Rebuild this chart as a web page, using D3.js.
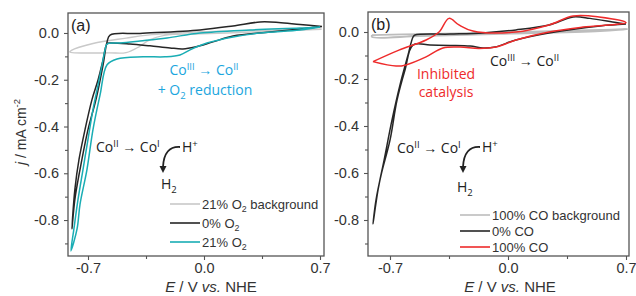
<!DOCTYPE html>
<html><head><meta charset="utf-8">
<script src="https://cdn.jsdelivr.net/npm/d3@7"></script>
<style>body{margin:0;background:#fff}svg{display:block}</style>
</head><body><svg id="c" width="636" height="296"></svg>
<script>
// ---------- data ----------
const xTicksMajor = [-0.7, 0.0, 0.7];
const xTicksMinor = [-0.35, 0.35];
const yTicksMajor = [-0.8, -0.6, -0.4, -0.2, 0.0];
const yTicksMinor = [-0.9, -0.7, -0.5, -0.3, -0.1];

// Panel (a): [E (V vs NHE), j (mA cm^-2)]
const bgO2 = [[0.71,0.016],[0.52,0.010],[0.28,0.004],[-0.02,-0.004],[-0.24,-0.010],[-0.33,-0.030],[-0.39,-0.058],[-0.47,-0.084],[-0.57,-0.085],[-0.81,-0.081],
  [-0.80,-0.074],[-0.67,-0.045],[-0.47,-0.022],[-0.34,-0.009],[-0.02,0.005],[0.28,0.011],[0.52,0.014],[0.71,0.016]];
const noO2 = [[0.712,0.028],[0.579,0.017],[0.398,0.004],[0.175,-0.013],[0.054,-0.038],[-0.054,-0.060],[-0.127,-0.068],[-0.205,-0.064],[-0.326,-0.055],[-0.447,-0.047],[-0.567,-0.043],[-0.585,-0.046],
  [-0.609,-0.115],[-0.639,-0.200],[-0.676,-0.285],[-0.718,-0.413],[-0.754,-0.540],[-0.779,-0.668],[-0.797,-0.838],
  [-0.779,-0.711],[-0.748,-0.583],[-0.700,-0.413],[-0.652,-0.285],[-0.609,-0.136],[-0.585,-0.038],[-0.567,-0.009],
  [-0.386,-0.002],[-0.024,0.013],[0.175,0.030],[0.338,0.047],[0.45,0.045],[0.58,0.036],[0.712,0.028]];
const withO2 = [[0.700,0.026],[0.579,0.013],[0.338,0.000],[0.175,-0.017],[0.018,-0.043],[-0.084,-0.072],[-0.145,-0.094],[-0.235,-0.102],[-0.368,-0.102],[-0.525,-0.111],[-0.585,-0.136],
  [-0.627,-0.264],[-0.670,-0.413],[-0.706,-0.583],[-0.748,-0.732],[-0.766,-0.838],[-0.803,-0.932],
  [-0.785,-0.838],[-0.760,-0.711],[-0.730,-0.583],[-0.700,-0.455],[-0.670,-0.328],[-0.639,-0.221],[-0.615,-0.136],[-0.597,-0.072],[-0.585,-0.047],
  [-0.507,-0.043],[-0.386,-0.034],[-0.223,-0.021],[-0.024,0.000],[0.278,0.013],[0.579,0.021],[0.700,0.026]];

// Panel (b)
const bgCO = [[-0.807,-0.013],[-0.522,-0.009],[-0.047,-0.002],[0.546,0.009],[0.712,0.013],[0.546,0.004],[-0.047,-0.008],[-0.522,-0.017],[-0.807,-0.021],[-0.807,-0.013]];
const noCO = [[0.700,0.034],[0.546,0.026],[0.243,-0.004],[0.047,-0.034],[-0.077,-0.064],[-0.148,-0.068],[-0.225,-0.060],[-0.344,-0.057],[-0.463,-0.055],[-0.563,-0.055],
  [-0.611,-0.162],[-0.658,-0.289],[-0.700,-0.460],[-0.753,-0.609],[-0.783,-0.715],[-0.801,-0.817],
  [-0.771,-0.672],[-0.735,-0.545],[-0.688,-0.374],[-0.641,-0.226],[-0.593,-0.098],[-0.563,-0.021],[-0.552,-0.013],
  [-0.344,-0.009],[-0.148,-0.004],[0.047,0.009],[0.243,0.030],[0.386,0.064],[0.486,0.058],[0.641,0.040],[0.700,0.034]];
const withCO = [[-0.801,-0.126],[-0.647,-0.077],[-0.486,-0.034],[-0.409,0.000],[-0.350,0.058],[-0.291,0.030],[-0.208,0.004],[0.047,0.000],[0.243,0.030],[0.386,0.068],[0.540,0.064],[0.700,0.040],
  [0.445,0.021],[0.243,0.000],[0.047,-0.034],[-0.071,-0.064],[-0.172,-0.070],[-0.285,-0.064],[-0.386,-0.068],[-0.486,-0.106],[-0.605,-0.140],[-0.664,-0.145],[-0.801,-0.126]];

const legendA = ["21% O|2| background", "0% O|2|", "21% O|2|"];
const legendB = ["100% CO background", "0% CO", "100% CO"];

// ---------- drawing ----------
const svg = d3.select("#c");
const FONT = "'Liberation Sans', Arial, sans-serif";
const AFONT = "'Open Sans', 'Noto Sans', sans-serif";
const cGray = "#c9c9c9", cBlack = "#262626", cCyan = "#19adb4", cRed = "#ee2b2b", cText = "#1ba6de";

function richText(g, x, y, parts, opts) {
  // parts: array of [text, mode] mode: 0 normal, 1 sup, -1 sub
  const t = g.append("text").attr("x", x).attr("y", y)
    .attr("font-family", opts.font).attr("font-size", opts.size)
    .attr("fill", opts.fill).attr("text-anchor", opts.anchor || "start");
  let cur = 0;
  parts.forEach(([s, m]) => {
    const target = m === 1 ? -opts.size * 0.38 : (m === -1 ? opts.size * 0.28 : 0);
    const ts = t.append("tspan").text(s).attr("dy", target - cur);
    if (m !== 0) ts.attr("font-size", opts.size * 0.68);
    cur = target;
  });
  return t;
}
function parseSub(str) {
  return str.split("|").map((s, i) => [s, i % 2 === 1 ? -1 : 0]).filter(p => p[0].length);
}

function panel(cfg) {
  const g = svg.append("g");
  const x = d3.scaleLinear().domain(cfg.xd).range([cfg.L, cfg.R]);
  const y = d3.scaleLinear().domain(cfg.yd).range([cfg.B, cfg.T]);
  const fmt = d => d.toFixed(1);

  const ax = g.append("g").attr("transform", `translate(0,${cfg.B})`)
    .call(d3.axisBottom(x).tickValues(xTicksMajor).tickFormat(fmt).tickSize(4).tickPadding(3));
  g.append("g").attr("transform", `translate(0,${cfg.B})`)
    .call(d3.axisBottom(x).tickValues(xTicksMinor).tickFormat("").tickSize(3));
  g.append("g").attr("transform", `translate(${cfg.L},0)`)
    .call(d3.axisLeft(y).tickValues(yTicksMajor).tickFormat(fmt).tickSize(4).tickPadding(5));
  g.append("g").attr("transform", `translate(${cfg.L},0)`)
    .call(d3.axisLeft(y).tickValues(yTicksMinor).tickFormat("").tickSize(3));
  g.selectAll(".domain").remove();
  g.selectAll(".tick line").attr("stroke", "#555").attr("stroke-width", 1.1);
  g.selectAll(".tick text").attr("font-family", FONT).attr("font-size", 14.5).attr("fill", "#333");

  g.append("rect").attr("x", cfg.L).attr("y", cfg.T).attr("width", cfg.R - cfg.L).attr("height", cfg.B - cfg.T)
    .attr("fill", "none").attr("stroke", "#555").attr("stroke-width", 1.3);

  const line = d3.line().x(d => x(d[0])).y(d => y(d[1])).curve(d3.curveCatmullRom.alpha(0.5));
  cfg.series.forEach(s => {
    g.append("path").datum(s.data).attr("d", line).attr("fill", "none")
      .attr("stroke", s.color).attr("stroke-width", s.w || 1.5).attr("stroke-linejoin", "round");
  });

  // legend
  cfg.legend.forEach((lab, i) => {
    const yy = cfg.legY[i];
    g.append("line").attr("x1", cfg.legX).attr("x2", cfg.legX + 30).attr("y1", yy).attr("y2", yy)
      .attr("stroke", cfg.series[i].color).attr("stroke-width", 1.6);
    richText(g, cfg.legX + 32, yy + 4.5, parseSub(lab), {font: FONT, size: 13, fill: "#333"});
  });

  // x label
  richText(g, cfg.xlabX, 292, [["E", 0], [" / V ", 0], ["vs.", 0], [" NHE", 0]], {font: FONT, size: 15, fill: "#333", anchor: "middle"})
    .selectAll("tspan").each(function(d, i) { if (i === 0 || i === 2) d3.select(this).attr("font-style", "italic"); });

  // panel letter
  g.append("text").attr("x", cfg.L + 3).attr("y", cfg.T + 18).text(cfg.letter)
    .attr("font-family", FONT).attr("font-size", 16).attr("fill", "#222");

  return {g, x, y};
}

const A = panel({
  L: 68, R: 324, T: 13, B: 256,
  xd: [-0.7 - 20 / 165.7, 0.7 + 4 / 165.7], yd: [-0.8 - 36 / 234, 20 / 234],
  series: [{data: bgO2, color: cGray, w: 1.4}, {data: noO2, color: cBlack}, {data: withO2, color: cCyan}],
  legend: legendA, legX: 170, legY: [204, 223, 242], xlabX: 211, letter: "(a)"
});
const Bp = panel({
  L: 368, R: 629, T: 12, B: 256,
  xd: [-0.7 - 22 / 168.6, 0.7 + 3 / 168.6], yd: [-0.8 - 36 / 235, 20 / 235],
  series: [{data: bgCO, color: "#bdbdbd", w: 1.8}, {data: noCO, color: cBlack}, {data: withCO, color: cRed}],
  legend: legendB, legX: 460, legY: [215, 231, 247], xlabX: 510, letter: "(b)"
});

// y label
const yl = svg.append("text").attr("transform", "translate(26,132) rotate(-90)")
  .attr("text-anchor", "middle").attr("font-family", FONT).attr("font-size", 14).attr("fill", "#333");
yl.append("tspan").text("j").attr("font-style", "italic");
yl.append("tspan").text(" / mA cm");
yl.append("tspan").text("-2").attr("font-size", 9.5).attr("dy", -6);

// annotations
const aOpt = {font: AFONT, size: 14, fill: cText, anchor: "middle"};
richText(svg, 204, 75, [["Co", 0], ["III", 1], [" → Co", 0], ["II", 1]], aOpt);
richText(svg, 205, 95, [["+ O", 0], ["2", -1], [" reduction", 0]], aOpt);

const kOpt = {font: AFONT, size: 14, fill: "#222", anchor: "start"};
richText(svg, 96, 152, [["Co", 0], ["II", 1], [" → Co", 0], ["I", 1]], kOpt);
richText(svg, 182, 152, [["H", 0], ["+", 1]], kOpt);
richText(svg, 161, 189, [["H", 0], ["2", -1]], kOpt);

richText(svg, 490, 66, [["Co", 0], ["III", 1], [" → Co", 0], ["II", 1]], kOpt);
richText(svg, 397, 153, [["Co", 0], ["II", 1], [" → Co", 0], ["I", 1]], kOpt);
richText(svg, 482, 152, [["H", 0], ["+", 1]], kOpt);
richText(svg, 457, 192, [["H", 0], ["2", -1]], kOpt);

const rOpt = {font: AFONT, size: 14, fill: cRed, anchor: "middle"};
richText(svg, 446, 79, [["Inhibited", 0]], rOpt);
richText(svg, 446, 97, [["catalysis", 0]], rOpt);

// curved arrows
function curvedArrow(x0, y0, x1, y1) {
  svg.append("path").attr("d", `M${x0},${y0} Q${x1 + 1},${y0 - 1} ${x1},${y1 - 5}`)
    .attr("fill", "none").attr("stroke", "#222").attr("stroke-width", 1.8);
  svg.append("path").attr("d", `M${x1 - 3.5},${y1 - 6} L${x1 + 3.5},${y1 - 6} L${x1},${y1 + 1} Z`).attr("fill", "#222");
}
curvedArrow(180, 147, 163, 172);
curvedArrow(480, 147, 463, 172);
</script></body></html>
